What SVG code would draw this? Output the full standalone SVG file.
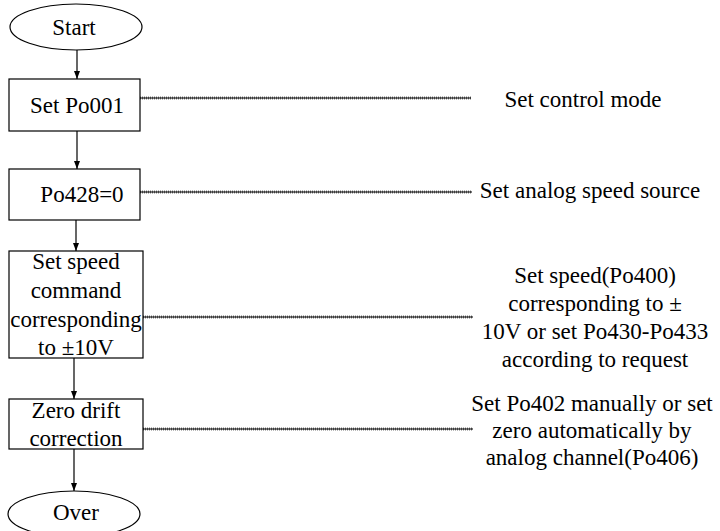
<svg xmlns="http://www.w3.org/2000/svg" width="720" height="531" viewBox="0 0 720 531">
<style>
.n{fill:#fff;stroke:#000;stroke-width:1.2}
text{font-family:"Liberation Serif","Times New Roman",serif;font-size:23px;fill:#000;text-anchor:middle}
.c{stroke:#000;stroke-width:1.2;fill:none}
.d{stroke:#777;stroke-width:3;stroke-dasharray:1 1;fill:none}
.s{stroke:#000;stroke-width:1.1;fill:none}
</style>
<defs>
<marker id="ah" markerWidth="8" markerHeight="10" refX="8" refY="5" orient="auto" markerUnits="userSpaceOnUse">
<path d="M0,2 L8,5 L0,8 Z" fill="#000"/>
</marker>
</defs>
<g id="connectors">
<line class="c" x1="77" y1="50" x2="77" y2="79" marker-end="url(#ah)"/>
<line class="c" x1="77" y1="131" x2="77" y2="169" marker-end="url(#ah)"/>
<line class="c" x1="76" y1="220" x2="76" y2="251" marker-end="url(#ah)"/>
<line class="c" x1="74" y1="358" x2="74" y2="399" marker-end="url(#ah)"/>
<line class="c" x1="74" y1="449" x2="74" y2="491" marker-end="url(#ah)"/>
<path class="d" d="M140,98 H471 M140,192 H472 M143,317 H473 M143,429 H473"/>
<path class="s" d="M140,98 H471 M140,192 H472 M143,317 H473 M143,429 H473"/>
</g>
<g id="start">
<ellipse class="n" cx="76" cy="27" rx="66" ry="23"/>
<text x="74" y="35">Start</text>
</g>
<g id="setPo001">
<rect class="n" x="9" y="79" width="131" height="52"/>
<text x="77" y="113">Set Po001</text>
</g>
<g id="po428">
<rect class="n" x="9" y="169" width="131" height="51"/>
<text x="82" y="202">Po428=0</text>
</g>
<g id="setSpeed">
<rect class="n" x="9" y="251" width="134" height="107"/>
<text x="76" y="269">Set speed</text>
<text x="76" y="298">command</text>
<text x="76" y="327">corresponding</text>
<text x="76" y="355">to ±10V</text>
</g>
<g id="zeroDrift">
<rect class="n" x="9" y="399" width="134" height="50"/>
<text x="76" y="418">Zero drift</text>
<text x="76" y="446">correction</text>
</g>
<g id="over">
<ellipse class="n" cx="74" cy="514" rx="66" ry="23"/>
<text x="76" y="520">Over</text>
</g>
<g id="note1">
<text x="583" y="107">Set control mode</text>
</g>
<g id="note2">
<text x="590" y="198">Set analog speed source</text>
</g>
<g id="note3">
<text x="595" y="283">Set speed(Po400)</text>
<text x="595" y="311">corresponding to ±</text>
<text x="595" y="339">10V or set Po430-Po433</text>
<text x="595" y="367">according to request</text>
</g>
<g id="note4">
<text x="592" y="411">Set Po402 manually or set</text>
<text x="592" y="438">zero automatically by</text>
<text x="592" y="465">analog channel(Po406)</text>
</g>
</svg>
